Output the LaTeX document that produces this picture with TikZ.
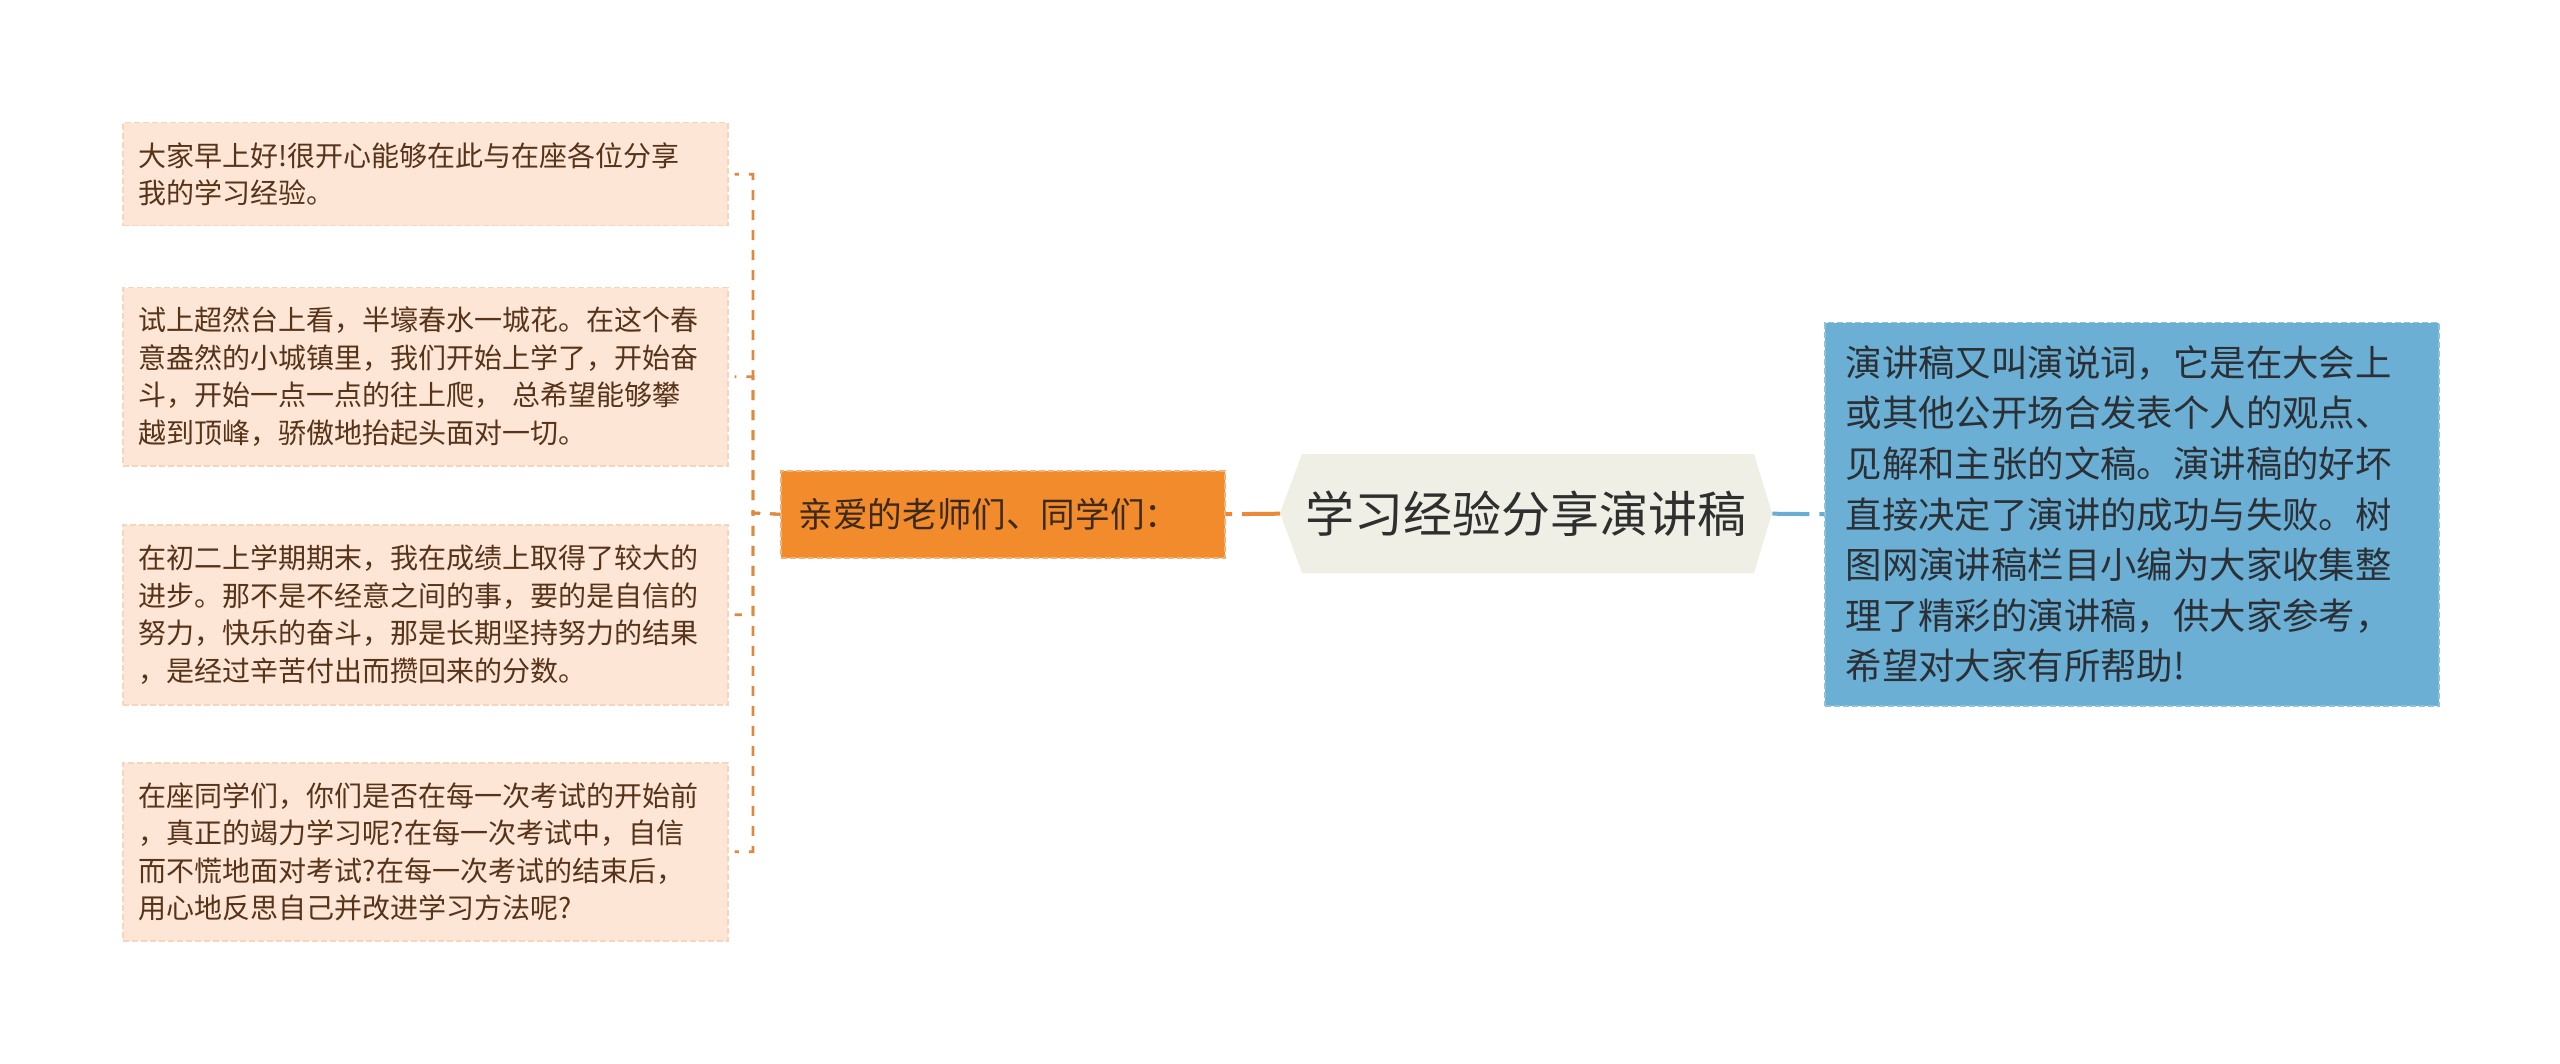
\documentclass[tikz,border=0pt]{standalone}
\usepackage{fontspec}
\setmainfont{Noto Sans CJK SC}
\definecolor{peach}{HTML}{FDE6D5}
\definecolor{peachline}{HTML}{F7D4BA}
\definecolor{brownt}{HTML}{57331A}
\definecolor{orfill}{HTML}{F28B2B}
\definecolor{orline}{HTML}{F6B072}
\definecolor{ortext}{HTML}{3E2A1C}
\definecolor{orconn}{HTML}{E98A3B}
\definecolor{lconn}{HTML}{DD8A3C}
\definecolor{cfill}{HTML}{EFEFE6}
\definecolor{ctext}{HTML}{2F2F2F}
\definecolor{bfill}{HTML}{6BAFD4}
\definecolor{bline}{HTML}{8FC2DF}
\definecolor{btext}{HTML}{2A3035}
\definecolor{bconn}{HTML}{6AADD2}
\begin{document}
\begin{tikzpicture}[x=1pt,y=-1pt,
  leftbox/.style={fill=peach, draw=peachline, dash pattern=on 6pt off 3pt, line width=1.5pt,
    text width=573pt, inner xsep=16pt, inner ysep=0pt, align=left, anchor=north west,
    font=\fontsize{28pt}{37.5pt}\selectfont, text=brownt},
  orbox/.style={fill=orfill, draw=orline, dash pattern=on 6pt off 3pt, line width=1.5pt,
    text width=408pt, inner xsep=18pt, inner ysep=0pt, align=left, anchor=north west,
    minimum height=87pt, font=\fontsize{34.6pt}{40pt}\selectfont, text=ortext},
  bluebox/.style={fill=bfill, draw=bline, dash pattern=on 6pt off 3pt, line width=1.5pt,
    text width=572pt, inner xsep=21pt, inner ysep=0pt, align=left, anchor=north west,
    minimum height=383pt, font=\fontsize{36.4pt}{50.6pt}\selectfont, text=btext},
  ctitle/.style={inner sep=0pt, minimum width=492pt, minimum height=119pt, anchor=north west,
    font=\fontsize{49pt}{55pt}\selectfont, text=ctext},
  lconnector/.style={draw=lconn, line width=2.6pt, dash pattern=on 10pt off 10pt},
  thickconn/.style={line width=4pt, dash pattern=on 38pt off 10pt}
]
\useasboundingbox[fill=white] (0,0) rectangle (2560,1064);

% left boxes
\node[leftbox, minimum height=103pt] (b1) at (122,122)
  {大家早上好!很开心能够在此与在座各位分享\\我的学习经验。};
\node[leftbox, minimum height=178pt] (b2) at (122,287)
  {试上超然台上看，半壕春水一城花。在这个春\\意盎然的小城镇里，我们开始上学了，开始奋\\斗，开始一点一点的往上爬， 总希望能够攀\\越到顶峰，骄傲地抬起头面对一切。};
\node[leftbox, minimum height=180pt] (b3) at (122,524)
  {在初二上学期期末，我在成绩上取得了较大的\\进步。那不是不经意之间的事，要的是自信的\\努力，快乐的奋斗，那是长期坚持努力的结果\\，是经过辛苦付出而攒回来的分数。};
\node[leftbox, minimum height=178pt] (b4) at (122,762)
  {在座同学们，你们是否在每一次考试的开始前\\，真正的竭力学习呢?在每一次考试中，自信\\而不慌地面对考试?在每一次考试的结束后，\\用心地反思自己并改进学习方法呢?};

% orange node
\node[orbox] (o) at (780,470) {亲爱的老师们、同学们：};

% centre hexagon
\fill[cfill] (1280,513) -- (1302,454) -- (1754,454) -- (1772,513) -- (1754,573) -- (1302,573) -- cycle;
\node[ctitle] (c) at (1280,454) {学习经验分享演讲稿};

% blue box
\node[bluebox] (bl) at (1824,322)
  {演讲稿又叫演说词，它是在大会上\\或其他公开场合发表个人的观点、\\见解和主张的文稿。演讲稿的好坏\\直接决定了演讲的成功与失败。树\\图网演讲稿栏目小编为大家收集整\\理了精彩的演讲稿，供大家参考，\\希望对大家有所帮助!};

% connectors
\coordinate (spine) at (753,513);
\foreach \b in {b1,b2,b3,b4}{
  \draw[lconnector] (o.west) -- (spine) |- ([xshift=6pt]\b.east);
}
\draw[thickconn, draw=orconn] (c.west) -- (o.east);
\draw[thickconn, draw=bconn, dash pattern=on 37pt off 10pt] (c.east) -- (bl.west);
\end{tikzpicture}
\end{document}
